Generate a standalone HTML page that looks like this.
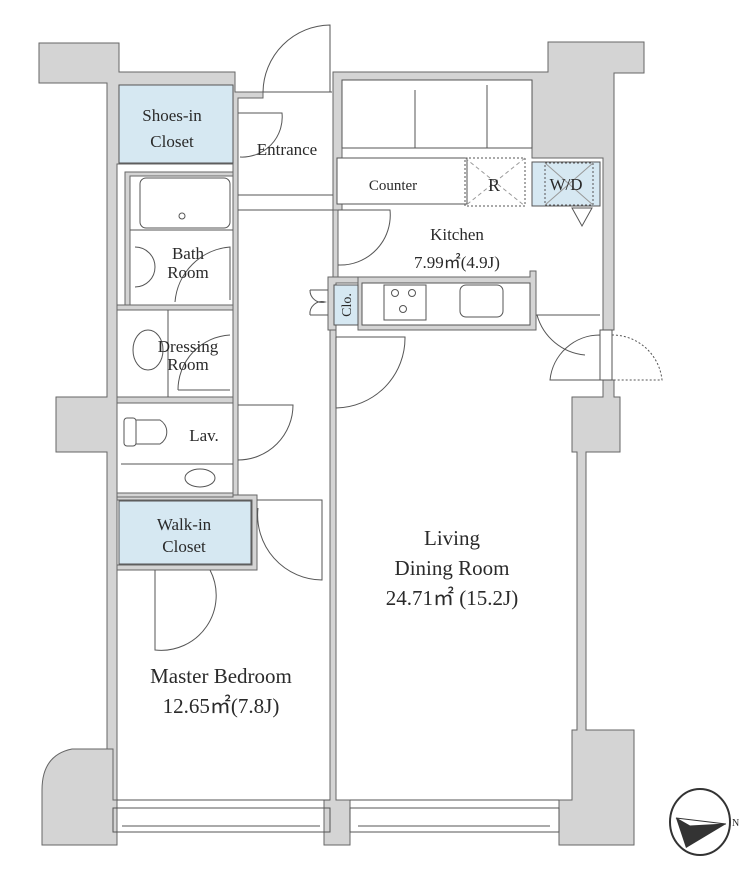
<!DOCTYPE html>
<html><head><meta charset="utf-8"><style>
html,body{margin:0;padding:0;background:#fff;}
svg{display:block;}
text{font-family:"Liberation Serif",serif;fill:#2a2a2a;}
</style></head><body>
<svg width="752" height="876" viewBox="0 0 752 876" xmlns="http://www.w3.org/2000/svg">
<g fill="#d4d4d4" stroke="#666" stroke-width="1">
<path d="M39,43 H119 V72 H235 V92 H263 V98 H238 V495 H233 V164 H117 V830 H107 V452 H56 V397 H107 V83 H39 Z"/>
<path d="M333,72 H548 V42 H644 V73 H614 V330 H603 V158 H532 V80 H342 V210 H333 Z"/>
<rect x="333" y="210" width="5" height="67"/>
<path d="M603,380 H614 V397 H620 V452 H586 V730 H634 V845 H559 V800 H572 V730 H577 V452 H572 V397 H603 Z"/>
<path d="M330,325 H336 V800 H350 V845 H324 V800 H330 Z"/>
<path d="M328,277 H362 V283 H336 V330 H328 Z"/>
<path d="M358,277 H530 V271 H536 V330 H358 Z"/>
<path d="M113,749 V800 H117 V845 H42 V790 Q42,755 72,749 Z"/>
<path d="M117,495 H257 V570 H117 V565 H252 V500 H117 Z"/>
<path d="M117,305 H233 V310 H117 Z"/>
<path d="M117,397 H233 V403 H117 Z"/>
<path d="M117,493 H233 V497 H117 Z"/>
<path d="M125,172 H233 V176 H130 V305 H125 Z"/>
</g>
<rect x="119" y="85" width="114" height="78" fill="#d6e8f2" stroke="#555"/>
<rect x="119" y="501" width="132" height="63" fill="#d6e8f2" stroke="#555"/>
<rect x="532" y="162" width="68" height="44" fill="#d6e8f2" stroke="#555"/>
<rect x="334" y="285" width="24" height="40" fill="#d6e8f2" stroke="#555"/>
<rect x="362" y="283" width="168" height="42" fill="#fff" stroke="#555"/>
<rect x="342" y="80" width="190" height="68" fill="#fff" stroke="#555"/>
<g fill="none" stroke="#555" stroke-width="1">
<line x1="415" y1="90" x2="415" y2="148"/><line x1="487" y1="85" x2="487" y2="148"/>
<rect x="337" y="158" width="130" height="46" fill="#fff"/>
<rect x="465" y="158" width="60" height="48" stroke-dasharray="2,2"/>
<line x1="465" y1="158" x2="525" y2="206" stroke-dasharray="4,3" stroke="#999"/><line x1="525" y1="158" x2="465" y2="206" stroke-dasharray="4,3" stroke="#999"/>
<rect x="545" y="163" width="48" height="42" stroke-dasharray="2,2"/>
<line x1="545" y1="163" x2="593" y2="205" stroke="#999"/><line x1="593" y1="163" x2="545" y2="205" stroke="#999"/>
<path d="M572,208 L592,208 L582,226 Z"/>
<rect x="384" y="285" width="42" height="35"/>
<circle cx="395" cy="293" r="3.5"/><circle cx="412" cy="293" r="3.5"/><circle cx="403" cy="309" r="3.5"/>
<rect x="460" y="285" width="43" height="32" rx="6"/>
<rect x="140" y="178" width="90" height="50" rx="6"/>
<circle cx="182" cy="216" r="3"/>
<line x1="130" y1="230" x2="233" y2="230"/>
<path d="M135,247 A20,20 0 0 1 135,287"/>
<path d="M175,302 A60,60 0 0 1 230,247 V300"/>
<line x1="168" y1="310" x2="168" y2="397"/>
<ellipse cx="148" cy="350" rx="15" ry="20"/>
<path d="M178,390 A55,55 0 0 1 230,335"/><line x1="178" y1="390" x2="230" y2="390"/>
<rect x="124" y="418" width="12" height="28" rx="3"/>
<path d="M136,420 H160 A14,14 0 0 1 160,444 H136"/>
<line x1="121" y1="464" x2="233" y2="464"/>
<ellipse cx="200" cy="478" rx="15" ry="9"/>
<path d="M238,405 H293 A55,55 0 0 1 238,460"/>
<line x1="238" y1="195" x2="333" y2="195"/><line x1="238" y1="210" x2="333" y2="210"/>
<line x1="263" y1="92" x2="332" y2="92"/>
<path d="M263,92 A68,68 0 0 1 330,25 V92"/>
<path d="M238,113 H282 A40,40 0 0 1 240,157"/>
<path d="M338,210 H390 A50,50 0 0 1 338,265"/>
<path d="M336,337 H405 A70,70 0 0 1 336,408 V337"/>
<path d="M328,290 H310 M328,315 H310"/>
<path d="M310,290 A12,12 0 0 0 325,302 A12,12 0 0 0 310,315"/>
<path d="M536,315 H600 M537,315 A55,55 0 0 0 585,355"/>
<path d="M605,380 H550 A50,50 0 0 1 600,335 V380"/>
<path d="M612,335 A50,50 0 0 1 662,380 H612" stroke-dasharray="2,2"/>
<rect x="600" y="330" width="12" height="50"/>
<path d="M257,500 H322 V580 A65,65 0 0 1 258,508"/>
<path d="M155,570 V650 A55,55 0 0 0 210,570"/>
<line x1="117" y1="800" x2="330" y2="800"/><line x1="350" y1="800" x2="559" y2="800"/>
<rect x="113" y="808" width="217" height="24"/><rect x="350" y="808" width="209" height="24"/>
<line x1="122" y1="826" x2="320" y2="826"/><line x1="358" y1="826" x2="550" y2="826"/>
<ellipse cx="700" cy="822" rx="30" ry="33" stroke="#333" stroke-width="2"/>
</g>
<path d="M676,818 L726,824 L686,848 Z" fill="#333"/>
<path d="M676,818 L726,824 L690,826 Z" fill="#fff" stroke="#333"/>
<text x="732" y="826" font-size="10">N</text>
<g font-size="17" text-anchor="middle">
<text x="172" y="121">Shoes-in</text><text x="172" y="147">Closet</text>
<text x="287" y="155">Entrance</text>
<text x="393" y="190" font-size="15">Counter</text>
<text x="494" y="191" font-size="18">R</text>
<text x="566" y="190">W/D</text>
<text x="457" y="240">Kitchen</text>
<text x="457" y="268">7.99㎡(4.9J)</text>
<text x="188" y="259">Bath</text><text x="188" y="278">Room</text>
<text x="188" y="352">Dressing</text><text x="188" y="370">Room</text>
<text x="204" y="441">Lav.</text>
<text x="184" y="530">Walk-in</text><text x="184" y="552">Closet</text>
<text x="346" y="305" font-size="14" transform="rotate(-90 346 305)" dy="5">Clo.</text>
</g>
<g font-size="21" text-anchor="middle">
<text x="452" y="545">Living</text>
<text x="452" y="575">Dining Room</text>
<text x="452" y="605">24.71㎡ (15.2J)</text>
<text x="221" y="683">Master Bedroom</text>
<text x="221" y="713">12.65㎡(7.8J)</text>
</g>
</svg>
</body></html>
